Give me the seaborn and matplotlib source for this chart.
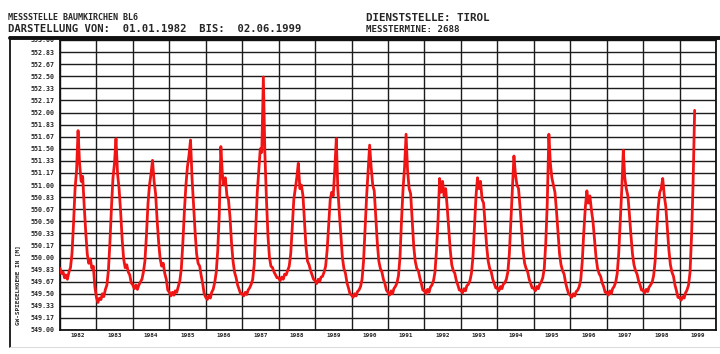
import matplotlib
matplotlib.use("Agg")
import numpy as np
import pandas as pd
import matplotlib.pyplot as plt
import matplotlib.dates as mdates
import matplotlib.ticker as mticker
from matplotlib.lines import Line2D
import seaborn as sns

sns.set_style("white")
plt.rcParams['font.family'] = ['DejaVu Sans Mono', 'DejaVu Sans']

# ---------------- data (semi-monthly readings, m a.s.l.) ----------------
years = list(range(1982, 2000))
year_labels = [str(y) for y in years]
y_tick_values = [549.00 + k / 6 for k in range(25)]
y_tick_labels = [f"{v:.2f}" for v in y_tick_values]

lvl_1982 = [549.85, 549.78, 549.80, 549.72, 549.76, 549.70, 549.80, 549.86, 550.05, 550.45, 550.95, 551.20,
            551.75, 551.30, 551.05, 551.12, 550.70, 550.35, 550.05, 549.92, 549.98, 549.85, 549.88, 549.60]
lvl_1983 = [549.45, 549.38, 549.44, 549.42, 549.50, 549.46, 549.56, 549.62, 549.82, 550.20, 550.70, 551.10,
            551.30, 551.64, 551.15, 550.95, 550.62, 550.25, 549.98, 549.86, 549.90, 549.80, 549.76, 549.65]
lvl_1984 = [549.62, 549.57, 549.62, 549.56, 549.62, 549.66, 549.70, 549.80, 549.95, 550.30, 550.75, 551.00,
            551.15, 551.34, 551.05, 550.88, 550.50, 550.20, 549.98, 549.88, 549.92, 549.78, 549.70, 549.55]
lvl_1985 = [549.52, 549.47, 549.52, 549.48, 549.54, 549.52, 549.60, 549.68, 549.85, 550.20, 550.65, 551.00,
            551.25, 551.40, 551.62, 551.10, 550.72, 550.35, 550.05, 549.92, 549.88, 549.75, 549.64, 549.50]
lvl_1986 = [549.45, 549.42, 549.47, 549.44, 549.52, 549.56, 549.66, 549.80, 550.10, 550.60, 551.53, 551.15,
            551.00, 551.10, 550.85, 550.80, 550.55, 550.20, 549.95, 549.80, 549.72, 549.62, 549.56, 549.50]
lvl_1987 = [549.50, 549.47, 549.52, 549.49, 549.55, 549.58, 549.63, 549.70, 549.90, 550.40, 550.90, 551.20,
            551.50, 551.45, 552.49, 551.45, 550.80, 550.30, 550.00, 549.88, 549.86, 549.80, 549.76, 549.72]
lvl_1988 = [549.72, 549.68, 549.73, 549.70, 549.77, 549.76, 549.82, 549.88, 550.05, 550.40, 550.80, 550.95,
            551.10, 551.30, 550.95, 551.00, 550.85, 550.50, 550.15, 549.95, 549.90, 549.82, 549.76, 549.70]
lvl_1989 = [549.68, 549.64, 549.70, 549.67, 549.73, 549.74, 549.80, 549.88, 550.10, 550.45, 550.80, 550.90,
            550.85, 551.20, 551.64, 550.95, 550.60, 550.30, 550.00, 549.85, 549.78, 549.65, 549.58, 549.50]
lvl_1990 = [549.48, 549.45, 549.50, 549.47, 549.53, 549.55, 549.60, 549.70, 549.95, 550.40, 550.85, 551.20,
            551.55, 551.25, 551.00, 550.92, 550.55, 550.20, 549.95, 549.85, 549.80, 549.70, 549.64, 549.55]
lvl_1991 = [549.52, 549.48, 549.54, 549.50, 549.57, 549.60, 549.65, 549.75, 550.00, 550.50, 550.95, 551.25,
            551.70, 551.20, 550.95, 550.88, 550.50, 550.15, 549.95, 549.85, 549.82, 549.72, 549.64, 549.55]
lvl_1992 = [549.55, 549.50, 549.56, 549.52, 549.59, 549.62, 549.68, 549.80, 550.10, 550.50, 551.09, 550.90,
            551.05, 550.85, 550.95, 550.70, 550.40, 550.10, 549.90, 549.82, 549.78, 549.68, 549.62, 549.55]
lvl_1993 = [549.55, 549.51, 549.57, 549.54, 549.61, 549.63, 549.68, 549.78, 550.00, 550.40, 550.85, 551.10,
            550.95, 551.05, 550.80, 550.75, 550.45, 550.15, 549.95, 549.85, 549.80, 549.70, 549.64, 549.58]
lvl_1994 = [549.58, 549.54, 549.60, 549.57, 549.63, 549.65, 549.70, 549.80, 550.05, 550.50, 550.95, 551.40,
            551.15, 551.00, 550.95, 550.70, 550.40, 550.10, 549.92, 549.85, 549.80, 549.70, 549.64, 549.58]
lvl_1995 = [549.58, 549.54, 549.60, 549.57, 549.63, 549.66, 549.72, 549.85, 550.20, 550.75, 551.70, 551.30,
            551.10, 551.00, 550.90, 550.65, 550.35, 550.05, 549.90, 549.82, 549.77, 549.65, 549.57, 549.50]
lvl_1996 = [549.48, 549.45, 549.50, 549.47, 549.53, 549.55, 549.60, 549.70, 549.95, 550.35, 550.70, 550.92,
            550.75, 550.85, 550.65, 550.50, 550.25, 550.00, 549.85, 549.78, 549.74, 549.65, 549.60, 549.52]
lvl_1997 = [549.52, 549.48, 549.54, 549.50, 549.57, 549.60, 549.66, 549.78, 550.05, 550.50, 550.95, 551.48,
            551.10, 550.95, 550.85, 550.60, 550.30, 550.05, 549.90, 549.82, 549.77, 549.68, 549.62, 549.55]
lvl_1998 = [549.55, 549.51, 549.56, 549.53, 549.59, 549.62, 549.66, 549.75, 549.95, 550.35, 550.70, 550.90,
            550.95, 551.09, 550.85, 550.70, 550.40, 550.10, 549.90, 549.80, 549.74, 549.62, 549.54, 549.45]
lvl_1999 = [549.45, 549.41, 549.46, 549.44, 549.51, 549.55, 549.62, 549.80, 550.30, 551.00, 552.03]

all_levels = [lvl_1982, lvl_1983, lvl_1984, lvl_1985, lvl_1986, lvl_1987, lvl_1988, lvl_1989, lvl_1990,
              lvl_1991, lvl_1992, lvl_1993, lvl_1994, lvl_1995, lvl_1996, lvl_1997, lvl_1998, lvl_1999]

dates, values = [], []
for yr, vals in zip(years, all_levels):
    d = [pd.Timestamp(yr, m, day) for m in range(1, 13) for day in (1, 16)][:len(vals)]
    dates += d
    values += vals
df = pd.DataFrame({"date": dates, "level": values})

# ---------------- figure ----------------
W, H = 720, 354
fig = plt.figure(figsize=(7.2, 3.54), dpi=100)
fig.patch.set_facecolor("white")
ax = fig.add_axes([60 / W, 1 - 330 / H, 656 / W, 290 / H])

sns.lineplot(data=df, x="date", y="level", color="#f01414", linewidth=2.0, ax=ax, zorder=5)

ax.set_xlim(pd.Timestamp(1982, 1, 1), pd.Timestamp(2000, 1, 1))
ax.set_ylim(549.0, 553.0)
ax.set_xlabel("")
ax.set_ylabel("")

ax.set_yticks(y_tick_values)
ax.set_yticklabels(y_tick_labels, fontsize=4.8, fontweight="bold")
ax.xaxis.set_major_locator(mdates.YearLocator())
ax.xaxis.set_major_formatter(mticker.NullFormatter())
ax.xaxis.set_minor_locator(mticker.FixedLocator(
    [mdates.date2num(pd.Timestamp(y, 7, 2)) for y in years]))
ax.xaxis.set_minor_formatter(mticker.FixedFormatter(year_labels))

ax.grid(True, which="major", color="#1c1c1c", linewidth=1.0)
ax.tick_params(axis="y", which="major", length=3, width=1.1, direction="out", pad=1, color="#1c1c1c")
ax.tick_params(axis="x", which="major", length=4, width=1.1, direction="out", color="#1c1c1c")
ax.tick_params(axis="x", which="minor", length=0, pad=2, labelsize=4.3)
for lab in ax.get_xticklabels(minor=True):
    lab.set_fontweight("bold")
for s in ax.spines.values():
    s.set_color("#111111")
    s.set_linewidth(1.3)

# frame lines
fig.add_artist(Line2D([10 / W, 1.0], [1 - 37.5 / H, 1 - 37.5 / H], color="#111111", linewidth=2.8))
fig.add_artist(Line2D([10 / W, 10 / W], [1 - 37 / H, 1 - 347 / H], color="#111111", linewidth=1.3))
fig.add_artist(Line2D([10 / W, 1.0], [1 - 347 / H, 1 - 347 / H], color="#dddddd", linewidth=0.8))

# header texts
fig.text(8 / W, 1 - 18 / H, "MESSSTELLE BAUMKIRCHEN BL6", fontsize=6, fontweight="bold", va="center")
fig.text(8 / W, 1 - 29.5 / H, "DARSTELLUNG VON:  01.01.1982  BIS:  02.06.1999", fontsize=7.6,
         fontweight="bold", va="center")
fig.text(366 / W, 1 - 18 / H, "DIENSTSTELLE: TIROL", fontsize=7.8, fontweight="bold", va="center")
fig.text(366 / W, 1 - 29.5 / H, "MESSTERMINE: 2688", fontsize=6.6, fontweight="bold", va="center")

fig.text(18 / W, 1 - 285 / H, "GW-SPIEGELHOEHE IN [M]", fontsize=4.3, fontweight="bold",
         rotation=90, ha="center", va="center")

fig.savefig("out.png", dpi=100, facecolor="white")
